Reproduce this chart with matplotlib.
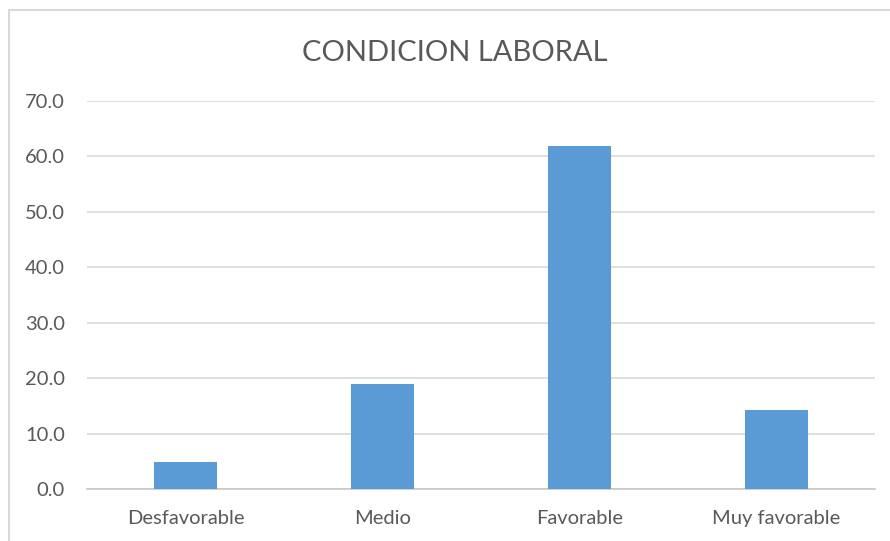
import matplotlib.pyplot as plt
from matplotlib.patches import Rectangle

categorias = ["Desfavorable", "Medio", "Favorable", "Muy favorable"]
porcentajes = [4.8, 19.0, 61.9, 14.3]
ticks_y = [0, 10, 20, 30, 40, 50, 60, 70]

plt.rcParams['font.family'] = ['Lato', 'DejaVu Sans']

fig = plt.figure(figsize=(8.9, 5.41), dpi=100)
ax = fig.add_axes([87/890, 52/541, 788/890, 388/541])

ax.bar(range(len(categorias)), porcentajes, width=0.315, color="#5B9BD5", zorder=3)

ax.set_xlim(-0.5, len(categorias) - 0.5)
ax.set_ylim(0, 70)
ax.set_yticks(ticks_y)
ax.set_yticklabels([f"{v:.1f}" for v in ticks_y])
ax.set_xticks(range(len(categorias)))
ax.set_xticklabels(categorias)
ax.yaxis.grid(True, color="#d9d9d9", linewidth=1.2, zorder=0)
ax.tick_params(axis="both", length=0, labelsize=14.5, labelcolor="#595959")
ax.tick_params(axis="y", pad=16)
ax.tick_params(axis="x", pad=15)
for s in ["top", "right", "left"]:
    ax.spines[s].set_visible(False)
ax.spines["bottom"].set_color("#c8c8c8")
ax.spines["bottom"].set_linewidth(1.2)

fig.text(455/890, 1 - 53/541, "CONDICION LABORAL", ha="center", va="center",
         fontsize=21, color="#595959")

# chart border
fig.patches.append(Rectangle((8.5/890, -0.1), 1.1, 1.1 - 10.5/541,
                             transform=fig.transFigure, fill=False,
                             edgecolor="#d9d9d9", linewidth=1.5))

fig.savefig("out.png", dpi=100)
